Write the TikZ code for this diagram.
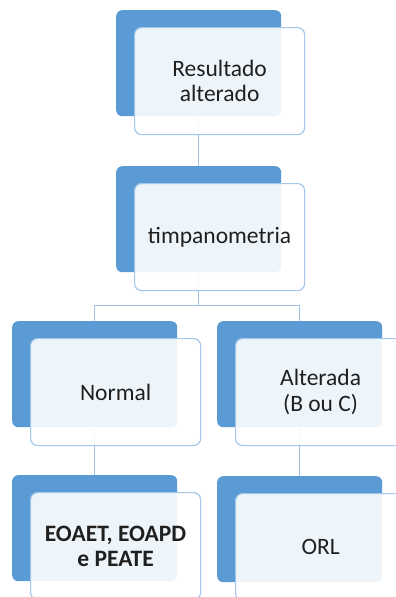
\documentclass[tikz,border=0pt]{standalone}
\usepackage{fontspec}
\setmainfont{Carlito}
\usepackage{tikz}
\usetikzlibrary{
  positioning % frente ao fundo
}
\definecolor{caixaazul}{HTML}{5B9BD5}
\definecolor{bordaclara}{HTML}{A5C8EA}
\definecolor{linhaclara}{HTML}{9DC3E6}

\begin{document}
\begin{tikzpicture}[x=1pt, y=-1pt,
  font=\fontsize{23.5pt}{25pt}\selectfont,
  backbox/.style={fill=caixaazul, rounded corners=6pt, inner sep=0pt,
    minimum width=165pt, minimum height=106pt, anchor=north west},
  frontbox/.style={fill=white, fill opacity=0.9, text opacity=1,
    draw=bordaclara, line width=1.2pt, rounded corners=7pt, inner sep=0pt,
    minimum width=170pt, minimum height=107pt, align=center,
    text=black!88},
  link/.style={draw=linhaclara, line width=1.3pt}]
  \useasboundingbox[fill=white] (0,0) rectangle (396,597);

  % blocos de fundo
  \node[backbox] (b1) at (116,10) {};
  \node[backbox] (b2) at (116,166) {};
  \node[backbox] (b3) at (12,321) {};
  \node[backbox] (b4) at (217,321) {};
  \node[backbox] (b5) at (12,475) {};
  \node[backbox] (b6) at (217,476) {};

  % ligacoes
  \draw[link] (b1.south) -- (b2.north);
  \draw[link] (b2.south) -- ++(0,33) -| (b3.north);
  \draw[link] (b2.south) -- ++(0,33) -| (b4.north);
  \draw[link] (b3.south) -- (b5.north);
  \draw[link] (b4.south) -- (b6.north);

  % caixas da frente com texto
  \node[frontbox, below right=17pt and 18pt of b1.north west] (resultado)
    {Resultado\\alterado};
  \node[frontbox, below right=17pt and 18pt of b2.north west] (timpano)
    {timpanometria};
  \node[frontbox, below right=17pt and 18pt of b3.north west] (normal)
    {Normal};
  \node[frontbox, below right=17pt and 18pt of b4.north west] (alterada)
    {Alterada\\[1pt](B ou C)};
  \node[frontbox, below right=17pt and 18pt of b5.north west] (exames)
    {\bfseries EOAET, EOAPD\\\bfseries e PEATE};
  \node[frontbox, below right=17pt and 18pt of b6.north west] (orl)
    {ORL};
\end{tikzpicture}
\end{document}
